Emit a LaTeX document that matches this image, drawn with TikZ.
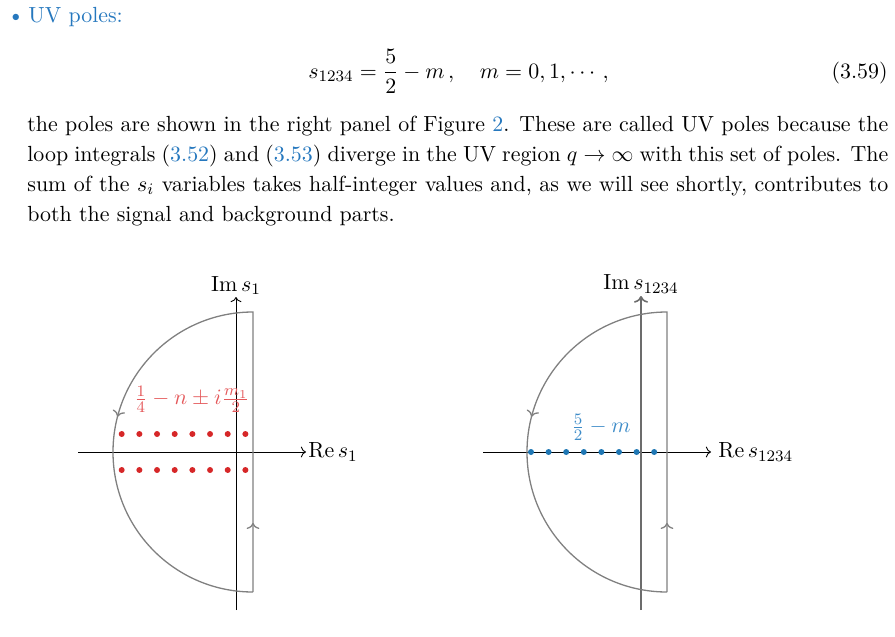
\documentclass[tikz,border=0pt]{standalone}
\usetikzlibrary{decorations.markings,arrows.meta}
\definecolor{linkblue}{RGB}{38,120,190}
\definecolor{polered}{RGB}{214,39,40}
\definecolor{labred}{RGB}{228,88,90}
\definecolor{poleblue}{RGB}{31,119,180}
\definecolor{labblue}{RGB}{62,140,200}
\definecolor{contourgray}{RGB}{128,128,128}
\begin{document}
\begin{tikzpicture}[x=0.5pt,y=-0.5pt,
  txt/.style={font=\fontsize{10.95}{13.6}\selectfont, inner sep=0pt},
  axislbl/.style={font=\fontsize{10.95}{13.6}\selectfont, inner sep=1pt},
  axis/.style={->, black, line width=0.45pt},
  contour/.style={contourgray, line width=0.65pt, postaction={decorate},
    decoration={markings, mark=at position 0.096 with {\arrow{>}},
                          mark=at position 0.645 with {\arrow{>}}}},
  pole/.style={radius=1.5pt}
]
\useasboundingbox (0,0) rectangle (895,637);

% ---- header and text ----
\node[txt, anchor=base west, text=linkblue] (bul) at (7,22) {\textbullet};
\node[txt, anchor=base west, text=linkblue] (uv) at (28,22) {UV poles:};
\node[txt, anchor=base west] (eq) at (308,78)
  {$\displaystyle s_{1234}=\frac{5}{2}-m\,,\quad m=0,1,\cdots\,,$};
\node[txt, anchor=base east] (eqn) at (888,78) {(3.59)};
\node[txt, anchor=base west] (l1) at (27,131.5)
  {\makebox[430.5pt][s]{the poles are shown in the right panel of Figure \textcolor{linkblue}{2}. These are called UV poles because the}};
\node[txt, anchor=base west] (l2) at (27,161.5)
  {\makebox[430.5pt][s]{loop integrals (\textcolor{linkblue}{3.52}) and (\textcolor{linkblue}{3.53}) diverge in the UV region $q\to\infty$ with this set of poles. The}};
\node[txt, anchor=base west] (l3) at (27,191.5)
  {\makebox[430.5pt][s]{sum of the $s_i$ variables takes half-integer values and, as we will see shortly, contributes to}};
\node[txt, anchor=base west] (l4) at (27,221.5)
  {both the signal and background parts.};

% ---- left panel ----
\draw[axis] (78,452) -- (306,452) node[axislbl, anchor=west] (reL) {$\mathrm{Re}\,s_1$};
\draw[axis] (236,610) -- (236,297) node[axislbl, anchor=south] (imL) {$\mathrm{Im}\,s_1$};
\draw[contour] (253,592) -- (253,312) arc[start angle=-90,end angle=-270,radius=140];
\foreach \i in {0,...,7} {
  \fill[polered] (121.7+17.67*\i,434) circle[pole];
  \fill[polered] (121.7+17.67*\i,470) circle[pole];
}
\node[txt, text=labred] (labL) at (192,399) {$\frac{1}{4}-n\pm i\frac{m_1}{2}$};

% ---- right panel ----
\draw[axis] (483,452) -- (711,452) node[axislbl, anchor=west, xshift=2.5pt] (reR) {$\mathrm{Re}\,s_{1234}$};
\draw[axis, draw=gray!85!black, line width=0.8pt] (641,610) -- (641,296) node[axislbl, anchor=south, text=black] (imR) {$\mathrm{Im}\,s_{1234}$};
\draw[contour] (667,592) -- (667,312) arc[start angle=-90,end angle=-270,radius=140];
\foreach \i in {0,...,7} {
  \fill[poleblue] (531+17.6*\i,452) circle[pole];
}
\node[txt, text=labblue] (labR) at (601,427) {$\frac{5}{2}-m$};
\end{tikzpicture}
\end{document}
